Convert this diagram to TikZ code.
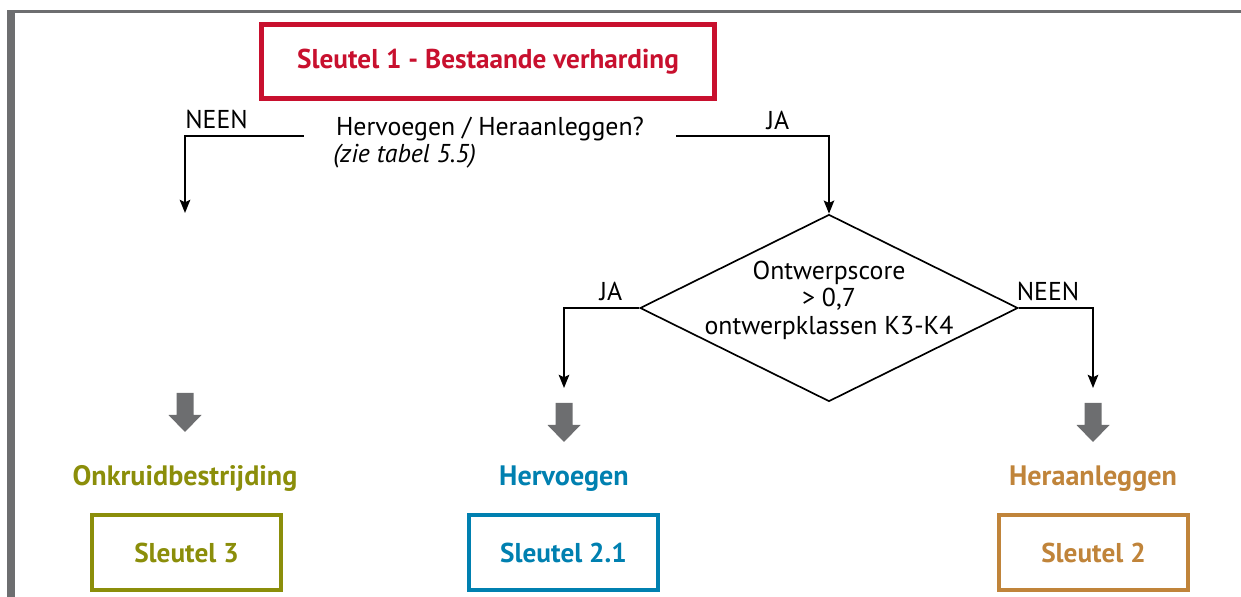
\documentclass[tikz,border=0pt]{standalone}
\usepackage{fontspec}
\setmainfont{PT Sans}
\usepackage{tikz}
\usetikzlibrary{arrows.meta,positioning,shapes.geometric,calc}
\usepackage{xcolor}

\definecolor{keyred}{RGB}{200,16,46}
\definecolor{weedgreen}{RGB}{139,142,10}
\definecolor{joinblue}{RGB}{0,128,176}
\definecolor{relayorange}{RGB}{192,132,58}
\definecolor{framegray}{RGB}{109,110,112}

\tikzset{
    keybox/.style={draw, line width=2.55pt, minimum width=3.78cm, minimum height=1.5cm, inner sep=0pt, font=\bfseries\fontsize{15.5}{17}\selectfont},
    plain/.style={inner sep=0pt, font=\fontsize{14.7}{15.6}\selectfont},
    result/.style={inner sep=0pt, anchor=base, font=\bfseries\fontsize{16}{18}\selectfont},
    flow/.style={line width=0.95pt, -{Stealth[length=7.5pt, width=6pt, inset=1.4pt]}}
}

\begin{document}
\begin{tikzpicture}[x=0.02cm, y=-0.02cm]
    \useasboundingbox (0,0) rectangle (1241,597);

    \fill[framegray] (7,10) rectangle (15,597);
    \fill[framegray] (7,10) rectangle (1241,13);

    \node[keybox, draw=keyred, text=keyred, minimum width=9.06cm, minimum height=1.48cm] (key1) at (488,61.5) {Sleutel 1 - Bestaande verharding};

    \node[plain, anchor=base, inner xsep=0.64cm] (q) at (490,136) {Hervoegen / Heraanleggen?};
    \node[plain, anchor=base west, font=\itshape\fontsize{14.7}{15.6}\selectfont] (ref) at (333,163) {(zie tabel 5.5)};

    \node[diamond, draw, line width=0.95pt, minimum width=7.56cm, minimum height=3.74cm, inner sep=0pt] (d) at (829,308) {};
    \node[plain, align=center] (dtext) at (829,300) {Ontwerpscore\\> 0,7\\ontwerpklassen K3-K4};

    \coordinate (weedend) at (185,213);
    \coordinate (joinend) at (564,388);
    \coordinate (relayend) at (1093,388);

    \draw[flow] (q.base west) -| (weedend);
    \draw[flow] (q.base east) -| (d.north);
    \draw[flow] (d.west) -| (joinend);
    \draw[flow] (d.east) -| (relayend);

    \node[plain, anchor=west] (neen1) at (185,119) {NEEN};
    \node[plain] (ja1) at (778,120) {JA};
    \node[plain] (ja2) at (611,291) {JA};
    \node[plain] (neen2) at (1048,291) {NEEN};

    \foreach \x/\y in {185/393, 564/403, 1093/403}
        \fill[framegray] (\x-8.5,\y) -- ++(17,0) -- ++(0,22) -- ++(8,0) -- (\x,\y+39) -- (\x-16.5,\y+22) -- ++(8,0) -- cycle;

    \node[result, text=weedgreen] (weed) at (185,486) {Onkruidbestrijding};
    \node[result, text=joinblue] (join) at (564,486) {Hervoegen};
    \node[result, text=relayorange] (relay) at (1093,486) {Heraanleggen};

    \node[keybox, draw=weedgreen, text=weedgreen] (key3) at (186.5,552.5) {Sleutel 3};
    \node[keybox, draw=joinblue, text=joinblue] (key21) at (563.5,552.5) {Sleutel 2.1};
    \node[keybox, draw=relayorange, text=relayorange] (key2) at (1093.5,552.5) {Sleutel 2};
\end{tikzpicture}
\end{document}
